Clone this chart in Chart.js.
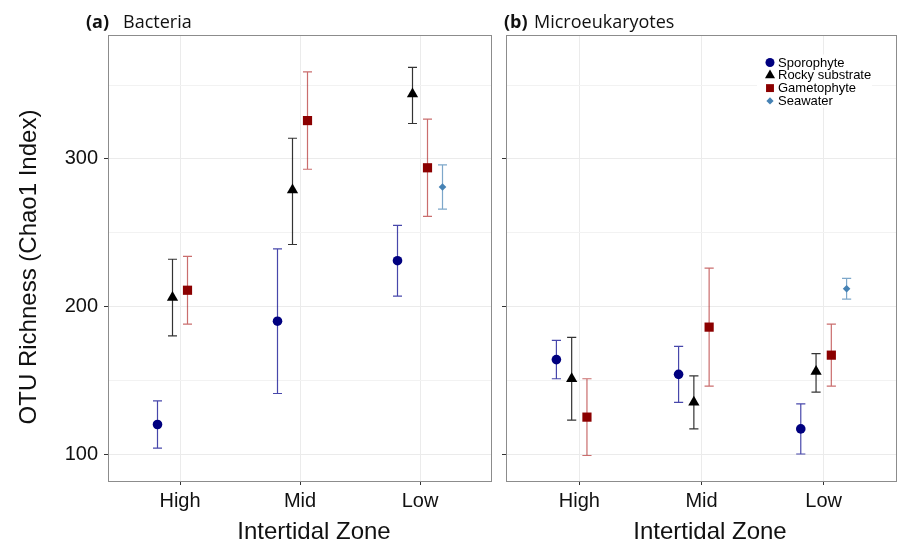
<!DOCTYPE html>
<html>
<head>
<meta charset="utf-8">
<script src="https://cdn.jsdelivr.net/npm/chart.js"></script>
<style>
  body { margin: 0; background: #fff; }
  #wrap { position: relative; width: 900px; height: 546px; }
  canvas { position: absolute; top: 0; }
  #chartA { left: 0; }
  #chartB { left: 495px; }
</style>
</head>
<body>
<div id="wrap">
  <canvas id="chartA" width="495" height="546"></canvas>
  <canvas id="chartB" width="405" height="546"></canvas>
</div>
<script>
// categories and groups
const zones = ['High', 'Mid', 'Low'];
const groups = ['Sporophyte', 'Rocky substrate', 'Gametophyte', 'Seawater'];
const yGridValues = [100, 150, 200, 250, 300, 350];   // labels only on the hundreds

// (a) Bacteria - mean and error bar ends per zone (null = not sampled)
const bacSporo = [120, 190, 231];
const bacSporoLo = [104, 141, 207];
const bacSporoHi = [136, 239, 255];
const bacRocky = [206, 279, 344];
const bacRockyLo = [180, 242, 324];
const bacRockyHi = [232, 314, 362];
const bacGameto = [211, 326, 294];
const bacGametoLo = [188, 293, 261];
const bacGametoHi = [234, 359, 327];
const bacSea = [null, null, 281];
const bacSeaLo = [null, null, 266];
const bacSeaHi = [null, null, 296];

// (b) Microeukaryotes
const micSporo = [164, 154, 117];
const micSporoLo = [151, 135, 100];
const micSporoHi = [177, 173, 134];
const micRocky = [151, 135, 156];
const micRockyLo = [123, 117, 142];
const micRockyHi = [179, 153, 168];
const micGameto = [125, 186, 167];
const micGametoLo = [99, 146, 146];
const micGametoHi = [151, 226, 188];
const micSea = [null, null, 212];
const micSeaLo = [null, null, 205];
const micSeaHi = [null, null, 219];

// look of each group
const pointColors = ['#00007f', '#000000', '#8b0000', '#4682b4'];
const barColors = ['rgba(0,0,139,0.72)', 'rgba(0,0,0,0.8)', 'rgba(170,20,20,0.62)', 'rgba(70,130,180,0.7)'];
const shapes = ['circle', 'triangle', 'rect', 'rectRot'];
const radii = [4.8, 6.5, 6.5, 3.8];
const legendRadii = [4.5, 5.8, 5.6, 3.6];

const AXIS_FONT = "'Liberation Sans', Arial, sans-serif";
const TITLE_FONT = "'Open Sans', 'Noto Sans', sans-serif";

function makeDatasets(series) {
    return series.map((s, g) => {
        const offset = (g - 1.5) * 0.125; // dodge
        const pts = [];
        s.mean.forEach((m, i) => {
            if (m === null) return;
            pts.push({ x: i + 1 + offset, y: m, lo: s.lo[i], hi: s.hi[i] });
        });
        return {
            label: groups[g],
            data: pts,
            pointStyle: shapes[g],
            pointRadius: radii[g],
            pointBorderWidth: 0,
            backgroundColor: pointColors[g],
            borderColor: pointColors[g],
            barColor: barColors[g]
        };
    });
}

// error bars under the points
const errorBars = {
    id: 'errorBars',
    beforeDatasetsDraw(chart) {
        const ctx = chart.ctx;
        const y = chart.scales.y, x = chart.scales.x;
        const capHalf = x.getPixelForValue(1.0375) - x.getPixelForValue(1);
        chart.data.datasets.forEach((ds, di) => {
            const meta = chart.getDatasetMeta(di);
            ctx.save();
            ctx.strokeStyle = ds.barColor;
            ctx.lineWidth = 1.2;
            meta.data.forEach((el, i) => {
                const raw = ds.data[i];
                const px = el.x;
                const top = y.getPixelForValue(raw.hi);
                const bot = y.getPixelForValue(raw.lo);
                ctx.beginPath();
                ctx.moveTo(px, top); ctx.lineTo(px, bot);
                ctx.moveTo(px - capHalf, top); ctx.lineTo(px + capHalf, top);
                ctx.moveTo(px - capHalf, bot); ctx.lineTo(px + capHalf, bot);
                ctx.stroke();
            });
            ctx.restore();
        });
    }
};

// panel frame plus the texts around it
const panelDecor = {
    id: 'panelDecor',
    afterDraw(chart, args, opts) {
        const ctx = chart.ctx;
        const a = chart.chartArea;
        ctx.save();
        ctx.strokeStyle = '#8c8c8c';
        ctx.lineWidth = 1;
        ctx.strokeRect(Math.round(a.left) + 0.5, Math.round(a.top) + 0.5,
            Math.round(a.right - a.left) - 1, Math.round(a.bottom - a.top));

        ctx.fillStyle = '#111';
        ctx.textBaseline = 'alphabetic';
        ctx.textAlign = 'left';
        ctx.font = "bold 18px " + TITLE_FONT;
        ctx.fillText(opts.tag, opts.tagX, 28);
        ctx.font = "18px " + TITLE_FONT;
        ctx.fillText(opts.title, opts.titleX, 28);

        ctx.font = "24px " + AXIS_FONT;
        ctx.textAlign = 'center';
        ctx.textBaseline = 'middle';
        ctx.fillText('Intertidal Zone', opts.xTitleX, 532);

        if (opts.yTitle) {
            ctx.translate(29, 267);
            ctx.rotate(-Math.PI / 2);
            ctx.fillText(opts.yTitle, 0, 0);
        }
        ctx.restore();
    }
};

// legend box drawn inside panel (b)
const insideLegend = {
    id: 'insideLegend',
    afterDraw(chart, args, opts) {
        if (!opts.show) return;
        const ctx = chart.ctx;
        ctx.save();
        ctx.fillStyle = '#fff';
        ctx.fillRect(opts.x - 13, opts.y - 8, 115, 53);
        ctx.font = "13px " + AXIS_FONT;
        ctx.textBaseline = 'middle';
        ctx.textAlign = 'left';
        chart.data.datasets.forEach((ds, g) => {
            const cy = opts.y + g * 12.8;
            ctx.fillStyle = pointColors[g];
            Chart.helpers.drawPoint(ctx, { pointStyle: shapes[g], radius: legendRadii[g], rotation: 0, borderWidth: 0 }, opts.x, cy);
            ctx.fillStyle = '#000';
            ctx.fillText(ds.label, opts.x + 8, cy + 0.5);
        });
        ctx.restore();
    }
};

function panelOptions(showYLabels, yWidth, decor, legend) {
    return {
        responsive: false,
        animation: false,
        events: [],
        layout: { autoPadding: false, padding: { top: 35, right: 3, left: 0, bottom: 0 } },
        plugins: {
            legend: { display: false },
            tooltip: { enabled: false },
            panelDecor: decor,
            insideLegend: legend
        },
        scales: {
            x: {
                type: 'linear',
                min: 0.4,
                max: 3.6,
                afterBuildTicks: s => { s.ticks = zones.map((z, i) => ({ value: i + 1 })); },
                afterFit: s => { s.height = 65; },
                border: { display: false },
                grid: { color: '#ebebeb', lineWidth: 1, tickColor: '#333', tickLength: 4 },
                ticks: {
                    padding: 4,
                    color: '#111',
                    font: { family: AXIS_FONT, size: 20 },
                    callback: v => zones[Math.round(v) - 1]
                }
            },
            y: {
                type: 'linear',
                min: 81.7,
                max: 384,
                afterBuildTicks: s => { s.ticks = yGridValues.map(v => ({ value: v })); },
                afterFit: s => { s.width = yWidth; },
                border: { display: false },
                grid: {
                    color: c => (c.tick && c.tick.value % 100 === 0) ? '#ebebeb' : '#f2f2f2',
                    tickColor: c => (c.tick && c.tick.value % 100 === 0) ? '#333' : 'rgba(0,0,0,0)',
                    tickLength: 4
                },
                ticks: {
                    display: showYLabels,
                    padding: 6,
                    color: '#111',
                    font: { family: AXIS_FONT, size: 20 },
                    callback: v => (v % 100 === 0 ? String(v) : '')
                }
            }
        }
    };
}

const chartA = new Chart(document.getElementById('chartA'), {
    type: 'scatter',
    data: {
        datasets: makeDatasets([
            { mean: bacSporo, lo: bacSporoLo, hi: bacSporoHi },
            { mean: bacRocky, lo: bacRockyLo, hi: bacRockyHi },
            { mean: bacGameto, lo: bacGametoLo, hi: bacGametoHi },
            { mean: bacSea, lo: bacSeaLo, hi: bacSeaHi }
        ])
    },
    options: panelOptions(true, 108,
        { tag: '(a)', tagX: 86, title: 'Bacteria', titleX: 123, xTitleX: 314, yTitle: 'OTU Richness (Chao1 Index)' },
        { show: false }),
    plugins: [errorBars, panelDecor, insideLegend]
});

const chartB = new Chart(document.getElementById('chartB'), {
    type: 'scatter',
    data: {
        datasets: makeDatasets([
            { mean: micSporo, lo: micSporoLo, hi: micSporoHi },
            { mean: micRocky, lo: micRockyLo, hi: micRockyHi },
            { mean: micGameto, lo: micGametoLo, hi: micGametoHi },
            { mean: micSea, lo: micSeaLo, hi: micSeaHi }
        ])
    },
    options: panelOptions(false, 11,
        { tag: '(b)', tagX: 9, title: 'Microeukaryotes', titleX: 39, xTitleX: 215, yTitle: null },
        { show: true, x: 275, y: 62.5 }),
    plugins: [errorBars, panelDecor, insideLegend]
});
</script>
</body>
</html>
